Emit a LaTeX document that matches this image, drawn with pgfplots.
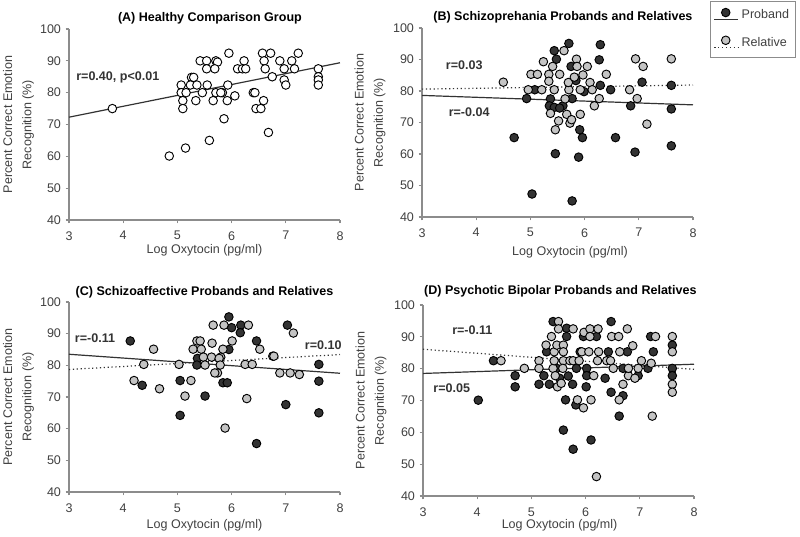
\documentclass[border=0pt]{standalone}
\usepackage{fontspec}
\setmainfont{Liberation Sans}
\usepackage{pgfplots}
\pgfplotsset{compat=1.18}
\definecolor{pdark}{HTML}{333333}
\definecolor{plight}{HTML}{C4C4C4}
\definecolor{axgray}{HTML}{8C8C8C}
\definecolor{txtgray}{HTML}{404040}
\tikzset{rlab/.style={font=\bfseries\fontsize{9.4}{11}\selectfont, text=pdark}}
\pgfplotsset{
 panel/.style={
  scale only axis, width=203.25pt,
  xmin=3,xmax=8,ymin=40,ymax=100,
  xtick={3,4,5,6,7,8}, ytick={40,50,60,70,80,90,100},
  axis x line*=bottom, axis y line*=left,
  axis line style={-, axgray, line width=0.9pt},
  tick style={axgray, line width=0.9pt},
  tick align=outside, major tick length=2.5pt,
  /pgf/number format/assume math mode=true,
  tick label style={font=\fontsize{9.4}{11}\selectfont, text=txtgray},
  xticklabel style={yshift=-2.5pt},
  label style={font=\fontsize{9.4}{12.75}\selectfont, text=txtgray},
  xlabel={Log Oxytocin (pg/ml)},
  ylabel={Percent Correct Emotion\\[1.7pt]Recognition (\%)},
  ylabel style={align=center, anchor=center},
  xlabel style={anchor=center},
  clip=false,
  every axis title/.style={font=\bfseries\fontsize{9.4}{11}\selectfont, anchor=center, text=black},
 },
 prob/.style={only marks, mark=*, mark size=3.2pt, mark options={fill=pdark, draw=black, line width=0.7pt}},
 rel/.style={only marks, mark=*, mark size=3.2pt, mark options={fill=plight, draw=black, line width=0.7pt}},
 hc/.style={only marks, mark=*, mark size=3.2pt, mark options={fill=white, draw=black, line width=0.7pt}},
 solidfit/.style={no marks, pdark, line width=0.9pt},
 dotfit/.style={no marks, pdark, line width=0.9pt, dotted},
}
\begin{document}
\begin{tikzpicture}
\path[use as bounding box] (0,0) rectangle (600pt,402pt);
% ---------------- A
\begin{axis}[panel, at={(51.75pt,237pt)}, anchor=south west, height=143.25pt,
  title={(A) Healthy Comparison Group},
  title style={at={(axis description cs:0.52,1.058)}},
  xlabel style={at={(axis description cs:0.5,-0.157)}},
  ylabel style={at={(axis description cs:-0.186,0.5)}}]
\addplot[solidfit] coordinates {(3,72.3) (8,89.4)};
\addplot[hc] coordinates {
(3.80,75.0) (4.85,60.1) (5.15,62.6) (5.59,65.0) (5.07,82.4) (5.07,80.0)
(5.10,77.5) (5.10,75.0) (5.16,80.0) (5.26,84.8) (5.30,84.8) (5.24,82.4)
(5.36,82.4) (5.34,77.5) (5.42,90.0) (5.54,90.0) (5.54,87.5) (5.46,80.0)
(5.55,82.4) (5.71,90.0) (5.74,89.6) (5.69,87.5) (5.66,77.5) (5.71,80.0)
(5.83,80.0) (5.80,80.0) (5.86,71.8) (5.95,92.4) (5.93,82.4) (5.92,77.5)
(6.06,79.0) (6.11,87.5) (6.23,90.0) (6.20,87.5) (6.26,87.5) (6.40,80.0)
(6.43,80.0) (6.45,75.0) (6.54,75.0) (6.59,77.5) (6.57,92.4) (6.60,90.0)
(6.62,87.5) (6.68,67.5) (6.72,92.4) (6.75,85.0) (6.89,90.0) (6.97,87.5)
(6.97,84.0) (7.00,82.4) (7.11,90.0) (7.16,87.5) (7.23,92.4) (7.60,87.5)
(7.60,85.0) (7.60,84.0) (7.60,82.4)};
\node[rlab] at (axis cs:3.90,84.9) {r=0.40, p<0.01};
\end{axis}
% ---------------- B
\begin{axis}[panel, at={(316.5pt,239.25pt)}, anchor=south west, height=141.75pt,
  title={(B) Schizoprehania Probands and Relatives},
  title style={at={(axis description cs:0.52,1.056)}},
  xlabel style={at={(axis description cs:0.546,-0.185)}},
  ylabel style={at={(axis description cs:-0.192,0.5)}},
  legend style={at={(axis description cs:1.063,1.145)}, anchor=north west,
    draw=axgray, line width=0.6pt, font=\fontsize{9.4}{11}\selectfont, text=txtgray,
    inner xsep=2.5pt, inner ysep=4.5pt, row sep=8.5pt, cells={anchor=west}},
  legend cell align=left]
\addlegendimage{legend image code/.code={
  \draw[pdark, line width=0.9pt] (0pt,-3.5pt) -- (18pt,-3.5pt);
  \fill[pdark, draw=black, line width=0.7pt] (8.5pt,2pt) circle (3.2pt);}}
\addlegendentry{Proband}
\addlegendimage{legend image code/.code={
  \draw[pdark, line width=0.9pt, dotted] (0pt,-3.5pt) -- (18pt,-3.5pt);
  \fill[plight, draw=black, line width=0.7pt] (8.5pt,2pt) circle (3.2pt);}}
\addlegendentry{Relative}
\addplot[solidfit, forget plot] coordinates {(3,78.6) (8,75.6)};
\addplot[dotfit, forget plot] coordinates {(3,80.6) (8,81.9)};
\addplot[prob, forget plot] coordinates {
(4.70,65.2) (4.93,77.6) (5.03,47.3) (5.08,80.4) (5.44,92.8) (5.48,90.1)
(5.46,60.1) (5.37,77.5) (5.35,75.3) (5.44,74.8) (5.60,75.3) (5.54,74.6)
(5.71,95.1) (5.75,87.8) (5.77,77.6) (5.77,45.1) (5.91,67.7) (5.96,65.2)
(5.89,59.0) (5.99,79.8) (5.84,83.3) (6.29,94.7) (6.27,89.9) (6.29,81.8)
(6.48,80.4) (6.57,65.2) (6.85,75.3) (6.93,60.6) (7.06,82.8) (7.60,81.8)
(7.60,74.3) (7.60,62.6)};
\addplot[rel, forget plot] coordinates {
(4.50,82.8) (4.96,80.4) (5.01,85.3) (5.13,85.3) (5.24,89.3) (5.21,80.4)
(5.34,85.3) (5.34,83.1) (5.37,72.9) (5.41,87.8) (5.44,80.4) (5.46,67.7)
(5.52,70.5) (5.54,85.3) (5.62,92.8) (5.64,77.5) (5.67,72.6) (5.71,80.4)
(5.70,82.7) (5.73,69.8) (5.76,70.9) (5.85,90.1) (5.86,87.8) (5.81,84.4)
(5.92,80.4) (5.92,72.6) (5.97,85.1) (6.05,87.8) (6.10,82.7) (6.14,80.4)
(6.18,75.3) (6.27,77.6) (6.40,85.3) (6.83,80.4) (6.94,90.2) (6.97,77.6)
(7.08,87.8) (7.15,69.5) (7.60,90.2)};
\node[rlab] at (axis cs:3.78,88.3) {r=0.03};
\node[rlab] at (axis cs:3.87,73.2) {r=-0.04};
\end{axis}
% ---------------- C
\begin{axis}[panel, at={(51.75pt,33pt)}, anchor=south west, height=142.5pt,
  title={(C) Schizoaffective Probands and Relatives},
  title style={at={(axis description cs:0.50,1.053)}},
  xlabel style={at={(axis description cs:0.5,-0.174)}},
  ylabel style={at={(axis description cs:-0.186,0.5)}}]
\addplot[solidfit] coordinates {(3,83.5) (8,77.5)};
\addplot[dotfit] coordinates {(3,78.7) (8,83.4)};
\addplot[prob] coordinates {
(4.13,87.7) (4.35,73.7) (5.05,75.2) (5.05,64.2) (5.37,82.2) (5.36,80.1)
(5.51,70.3) (5.84,74.5) (5.92,74.5) (5.95,95.3) (6.00,91.9) (5.95,85.0)
(6.17,92.7) (6.16,90.3) (6.46,87.7) (6.46,55.3) (7.00,67.6) (7.03,92.7)
(7.61,80.3) (7.61,75.0) (7.61,65.0)};
\addplot[rel] coordinates {
(4.20,75.2) (4.38,80.3) (4.56,85.1) (4.67,72.6) (5.03,80.3) (5.14,70.3)
(5.25,75.2) (5.29,85.1) (5.36,87.7) (5.42,87.7) (5.44,85.1) (5.48,82.6)
(5.51,80.1) (5.64,87.0) (5.63,82.6) (5.80,82.6) (5.77,82.2) (5.74,77.6)
(5.66,92.7) (5.69,77.6) (5.79,80.1) (5.84,85.1) (5.86,92.7) (5.88,60.2)
(6.01,87.7) (6.25,80.3) (6.28,69.5) (6.31,92.7) (6.38,80.3) (6.52,85.1)
(6.76,82.9) (6.78,82.9) (6.89,77.6) (7.08,77.6) (7.14,90.2) (7.25,77.1)};
\node[rlab] at (axis cs:3.48,88.5) {r=-0.11};
\node[rlab] at (axis cs:7.69,86.4) {r=0.10};
\end{axis}
% ---------------- D
\begin{axis}[panel, at={(317.25pt,30pt)}, anchor=south west, height=143.25pt,
  title={(D) Psychotic Bipolar Probands and Relatives},
  title style={at={(axis description cs:0.507,1.071)}},
  xlabel style={at={(axis description cs:0.504,-0.154)}},
  ylabel style={at={(axis description cs:-0.192,0.5)}}]
\addplot[solidfit] coordinates {(3,78.5) (8,81.4)};
\addplot[dotfit] coordinates {(3,86.1) (8,79.8)};
\addplot[prob] coordinates {
(4.02,70.1) (4.30,82.5) (4.70,77.8) (4.70,74.3) (5.14,75.1) (5.23,77.8)
(5.28,85.3) (5.33,75.1) (5.40,94.8) (5.47,80.1) (5.52,77.0) (5.63,70.2)
(5.59,60.7) (5.65,92.7) (5.65,90.1) (5.68,77.7) (5.76,75.1) (5.77,54.7)
(5.82,68.6) (5.83,80.1) (5.90,85.3) (5.96,90.1) (6.02,80.1) (6.01,74.3)
(6.02,77.8) (6.10,57.6) (6.20,90.1) (6.36,77.0) (6.42,85.3) (6.47,94.8)
(6.47,72.6) (6.62,65.1) (6.69,71.5) (6.77,85.3) (6.69,80.1) (6.97,77.8)
(7.15,80.1) (7.20,90.1) (7.25,85.3) (7.60,87.4) (7.60,80.1) (7.60,77.8)};
\addplot[rel] coordinates {
(4.44,82.5) (4.87,80.1) (5.14,82.5) (5.14,80.1) (5.27,87.4) (5.37,90.1)
(5.40,80.1) (5.42,85.3) (5.42,82.5) (5.44,77.8) (5.48,74.3) (5.50,94.8)
(5.50,92.5) (5.47,87.4) (5.59,87.4) (5.59,85.3) (5.59,82.5) (5.58,80.1)
(5.55,75.4) (5.77,92.5) (5.71,82.5) (5.77,82.5) (5.85,70.2) (5.88,82.5)
(5.93,85.3) (5.96,67.7) (5.97,91.4) (6.06,85.3) (6.08,92.5) (6.08,90.1)
(6.10,70.2) (6.15,77.8) (6.20,46.1) (6.23,92.5) (6.24,85.3) (6.22,82.5)
(6.39,82.5) (6.46,82.5) (6.48,90.1) (6.51,80.1) (6.61,90.1) (6.63,85.3)
(6.62,70.2) (6.69,75.1) (6.77,92.5) (6.79,77.8) (6.79,80.1) (6.87,87.2)
(6.91,77.0) (6.97,80.1) (7.03,82.5) (7.21,81.7) (7.23,65.1) (7.29,90.1)
(7.60,90.1) (7.60,85.3) (7.60,75.1) (7.60,72.6)};
\node[rlab] at (axis cs:3.91,92.2) {r=-0.11};
\node[rlab] at (axis cs:3.53,73.8) {r=0.05};
\end{axis}
\end{tikzpicture}
\end{document}
